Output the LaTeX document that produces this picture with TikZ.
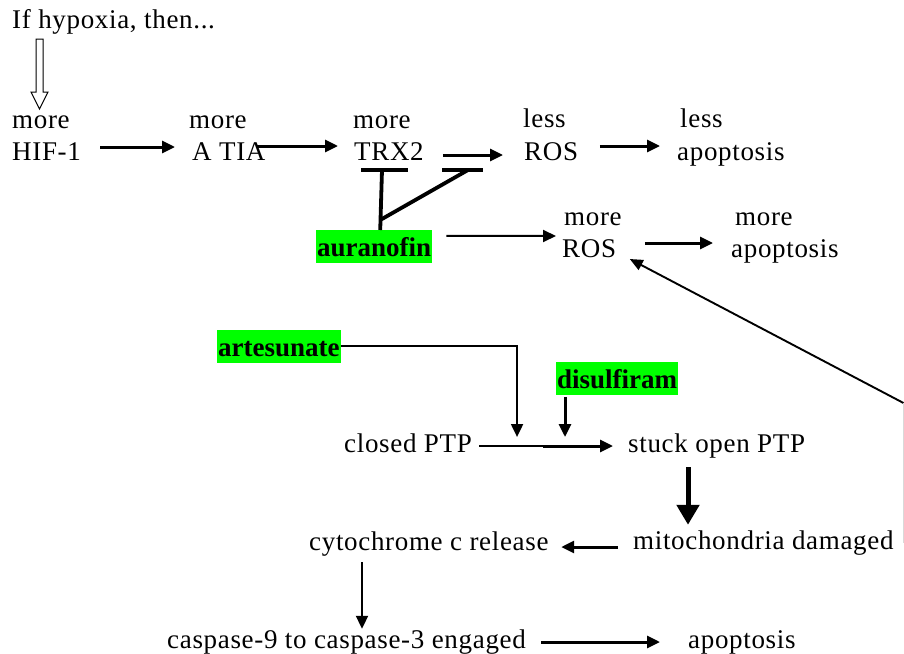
\documentclass[tikz,border=0pt]{standalone}
\usepackage{fontspec}
\setmainfont{Liberation Serif}[LetterSpace=2.5, BoldFeatures={LetterSpace=0}]
\usetikzlibrary{arrows.meta}
\definecolor{hl}{HTML}{00FF00}
\begin{document}
\begin{tikzpicture}[x=1pt,y=-1pt,
  txt/.style={inner sep=0pt, anchor=base west, text height=18pt, text depth=6pt, font=\fontsize{27}{30}\selectfont},
  drug/.style={fill=hl, inner xsep=1pt, inner ysep=6.5pt, text height=19.5pt, text depth=0pt, anchor=north west, font=\fontsize{27}{30}\selectfont\bfseries},
  head/.style={-{Triangle[length=13pt,width=12pt]}},
  arr/.style={head, line width=3pt},
  tarr/.style={head, line width=2pt},
  tline/.style={line width=2pt},
  bigarr/.style={-{Triangle[length=20pt,width=22pt]}, line width=5pt},
  inh/.style={line width=3.8pt},
  lnarr/.style={-{Triangle[length=13pt,width=11pt]}, line width=1.9pt}
]
\useasboundingbox (0,0) rectangle (904,653);

% texts
\node[txt] (hyp) at (12,28) {If hypoxia, then...};
\node[txt] (m1) at (12,128) {more};
\node[txt] (hif) at (12,160) {HIF-1};
\node[txt] (m2) at (189,128) {more};
\node[txt] (atia) at (192,160) {A TIA};
\node[txt] (m3) at (353,128) {more};
\node[txt] (trx) at (354,160) {TRX2};
\node[txt] (l1) at (523,127) {less};
\node[txt] (ros1) at (524,160) {ROS};
\node[txt] (l2) at (680,127) {less};
\node[txt] (apo1) at (677,160) {apoptosis};
\node[txt] (m4) at (564,225) {more};
\node[txt] (ros2) at (562,257) {ROS};
\node[txt] (m5) at (735,225) {more};
\node[txt] (apo2) at (731,257) {apoptosis};
\node[drug] (aura) at (316,230) {auranofin};
\node[drug] (arte) at (217,330) {artesunate};
\node[drug] (disu) at (556,362) {disulfiram};
\node[txt] (closed) at (344,452) {closed PTP};
\node[txt] (stuck) at (628,452) {stuck open PTP};
\node[txt] (mito) at (633,549) {mitochondria damaged};
\node[txt] (cyto) at (309,550) {cytochrome c release};
\node[txt] (casp) at (167,648) {caspase-9 to caspase-3 engaged};
\node[txt] (apo3) at (688,648) {apoptosis};

% hollow arrow
\draw[line width=1pt, fill=white] (36,39) -- (43,39) -- (43,92) -- (48,92) -- (39.5,109) -- (31,92) -- (36,92) -- cycle;

% top row
\draw[arr] ([shift={(19,-7)}]hif.east) -- ([shift={(-17,-7)}]atia.west);
\draw[arr] ([shift={(-8.5,-8)}]atia.east) -- ([shift={(-16,-8)}]trx.west);
\draw[arr] ([shift={(19,1)}]trx.east) -- ([shift={(-21,1)}]ros1.west);
\draw[arr] ([shift={(21.5,-8)}]ros1.east) -- ([shift={(-17,-8)}]apo1.west);

% inhibition by auranofin
\coordinate (b1) at (384.5,170);
\coordinate (b2) at (462.5,170);
\draw[inh] ([xshift=-23.5pt]b1) -- ([xshift=23.5pt]b1);
\draw[inh] ([xshift=-20.5pt]b2) -- ([xshift=20.5pt]b2);
\draw[inh] ([xshift=6pt]aura.north) -- ([xshift=-2.5pt]b1);
\draw[inh] ([shift={(6,-10)}]aura.north) -- ([xshift=5.5pt]b2);

% auranofin -> more ROS -> more apoptosis
\draw[tarr] ([shift={(14,-10.5)}]aura.east) -- ([shift={(-6,-15)}]ros2.west);
\draw[arr] ([shift={(28.5,-8)}]ros2.east) -- ([shift={(-18,-8)}]apo2.west);

% long return arrow
\coordinate (rp) at (903.5,403);
\draw[lnarr] (rp) -- ([shift={(13.5,8)}]ros2.east);
\draw[line width=1pt, gray!30] (rp) -- ++(0,140);

% PTP
\draw[tarr] (arte.east) -| ([shift={(45,-9)}]closed.east);
\draw[arr] ([shift={(9,2)}]disu.south west) -- ([shift={(-63,-9)}]stuck.west);
\draw[tline] ([xshift=7pt]closed.east) -- ([xshift=-83pt]stuck.west);
\draw[arr] ([xshift=-85pt]stuck.west) -- ([xshift=-15pt]stuck.west);

% mitochondria chain
\draw[bigarr] ([shift={(60,9)}]stuck.south west) -- ([shift={(55,-6)}]mito.north west);
\draw[arr] ([shift={(-15,4)}]mito.west) -- ([shift={(12.5,3)}]cyto.east);
\draw[tarr] ([shift={(53,6)}]cyto.south west) -- ([shift={(195,-1)}]casp.north west);
\draw[arr] ([xshift=15pt]casp.east) -- ([xshift=-28pt]apo3.west);
\end{tikzpicture}
\end{document}
